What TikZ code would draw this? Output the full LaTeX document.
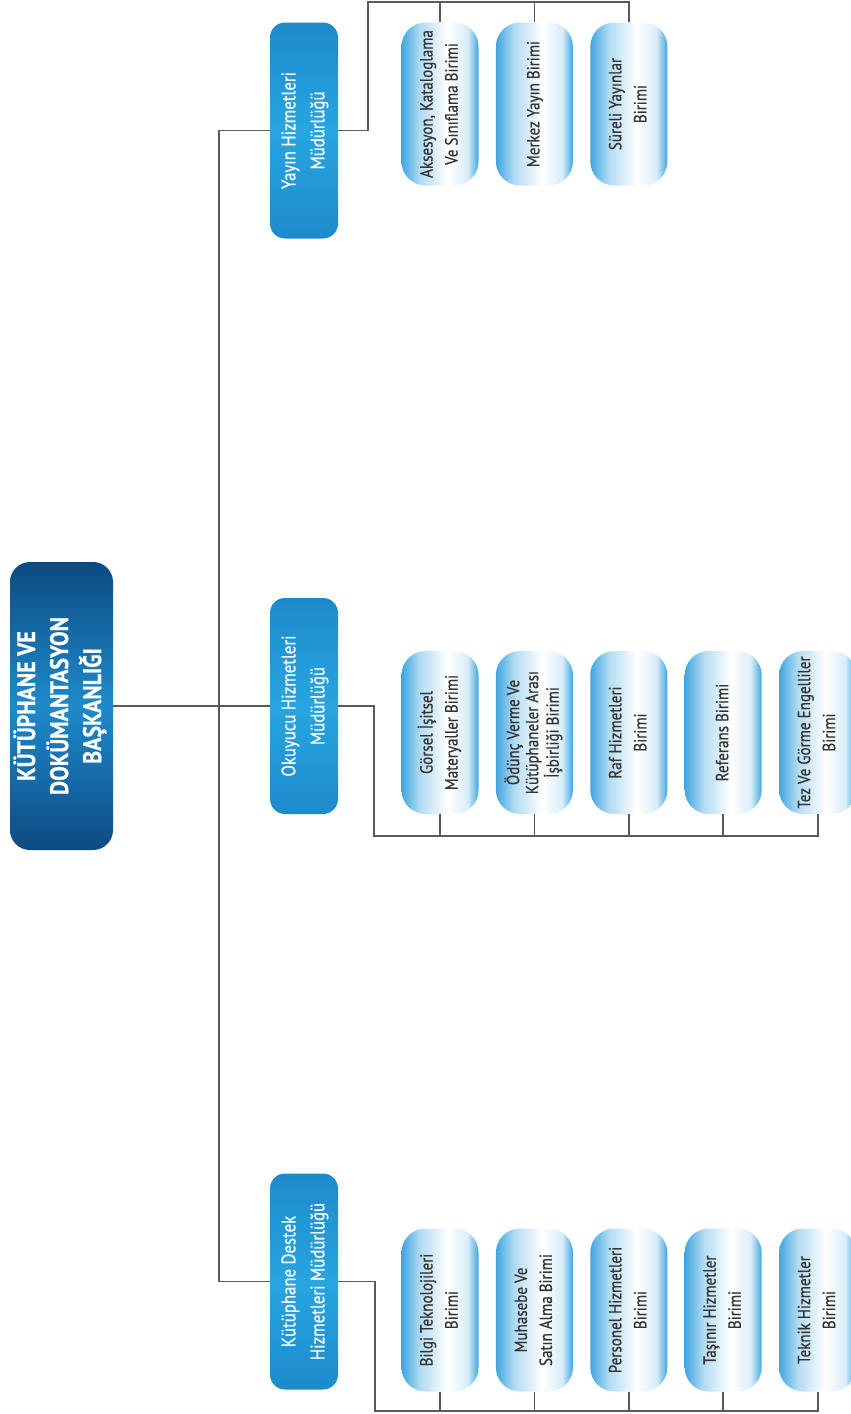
\documentclass[tikz,border=0pt]{standalone}
\usepackage{fontspec}
\setmainfont[FakeStretch=0.86,FakeBold=0.6]{PT Sans}
\usepackage{graphicx}
\usepackage{xcolor}
\usetikzlibrary{positioning}
\definecolor{rootblue}{HTML}{0D4A82}
\definecolor{rootlight}{HTML}{1E8ACB}
\definecolor{midblue}{HTML}{27A6E0}
\definecolor{middark}{HTML}{1D8ACB}
\definecolor{leafblue}{HTML}{3FA6E0}
\definecolor{linegray}{HTML}{5A5A5A}
\pgfdeclarehorizontalshading{leafshade}{100bp}{color(0bp)=(leafblue); color(25bp)=(leafblue); color(37bp)=(leafblue!40!white); color(55bp)=(white); color(68bp)=(white!80!leafblue); color(75bp)=(leafblue); color(100bp)=(leafblue)}
\newcommand{\vtext}[1]{\rotatebox{90}{\begin{tabular}{@{}c@{}}#1\end{tabular}}}

\begin{document}
\begin{tikzpicture}[x=1pt,y=-1pt,
  rootbox/.style={rounded corners=20pt, minimum width=103pt, minimum height=288pt, inner sep=0pt,
    top color=rootblue, bottom color=rootblue, middle color=rootlight, text=white,
    font=\fontsize{25.5}{33}\selectfont\bfseries},
  mgrbox/.style={rounded corners=15pt, minimum width=68pt, minimum height=216pt, inner sep=0pt,
    top color=middark, bottom color=middark, middle color=midblue, text=white,
    font=\fontsize{19.5}{29}\selectfont},
  unitbox/.style={rounded corners=24pt, minimum width=77pt, minimum height=163pt, inner sep=0pt,
    shading=leafshade, text=black!80, font=\fontsize{17.5}{25}\selectfont},
  link/.style={draw=linegray, line width=1.8pt},
]
\useasboundingbox (0,0) rectangle (851,1414);

\node[rootbox] (root) at (61.5,706) {\vtext{KÜTÜPHANE VE\\DOKÜMANTASYON\\BAŞKANLIĞI}};

\node[mgrbox] (yay) at (304,130.5) {\vtext{Yayın Hizmetleri\\Müdürlüğü}};
\node[mgrbox] (oku) at (304,706) {\vtext{Okuyucu Hizmetleri\\Müdürlüğü}};
\node[mgrbox] (des) at (304,1281.5) {\vtext{Kütüphane Destek\\Hizmetleri Müdürlüğü}};

% yayin
\node[unitbox] (y1) at (440,104) {\vtext{Aksesyon, Kataloglama\\Ve Sınıflama Birimi}};
\node[unitbox, right=17pt of y1] (y2) {\vtext{Merkez Yayın Birimi}};
\node[unitbox, right=17pt of y2] (y3) {\vtext{Süreli Yayınlar\\Birimi}};

% okuyucu
\node[unitbox] (o1) at (440,732.5) {\vtext{Görsel İşitsel\\Materyaller Birimi}};
\node[unitbox, right=17pt of o1] (o2) {\fontsize{17.5}{19}\selectfont\vtext{Ödünç Verme Ve\\Kütüphaneler Arası\\İşbirliği Birimi}};
\node[unitbox, right=17pt of o2] (o3) {\vtext{Raf Hizmetleri\\Birimi}};
\node[unitbox, right=17pt of o3] (o4) {\vtext{Referans Birimi}};
\node[unitbox, right=17pt of o4] (o5) {\vtext{Tez Ve Görme Engelliler\\Birimi}};

% destek
\node[unitbox] (d1) at (440,1310) {\vtext{Bilgi Teknolojileri\\Birimi}};
\node[unitbox, right=17pt of d1] (d2) {\vtext{Muhasebe Ve\\Satın Alma Birimi}};
\node[unitbox, right=17pt of d2] (d3) {\vtext{Personel Hizmetleri\\Birimi}};
\node[unitbox, right=17pt of d3] (d4) {\vtext{Taşınır Hizmetler\\Birimi}};
\node[unitbox, right=17pt of d4] (d5) {\vtext{Teknik Hizmetler\\Birimi}};

\coordinate (trunk) at (219,706);
\coordinate (ybus) at (368,2);
\coordinate (obus) at (374,836);
\coordinate (dbus) at (375,1411);

\draw[link] (root.east) -- (oku.west);
\draw[link] (yay.west) -| (trunk) |- (des.west);

\draw[link] (yay.east) -| (ybus) -| (y3.north);
\foreach \i in {1,2} \draw[link] (y\i.north) -- (y\i.north |- ybus);

\draw[link] (oku.east) -| (obus) -| (o5.south);
\foreach \i in {1,...,4} \draw[link] (o\i.south) -- (o\i.south |- obus);

\draw[link] (des.east) -| (dbus) -| (d5.south);
\foreach \i in {1,...,4} \draw[link] (d\i.south) -- (d\i.south |- dbus);
\end{tikzpicture}
\end{document}
